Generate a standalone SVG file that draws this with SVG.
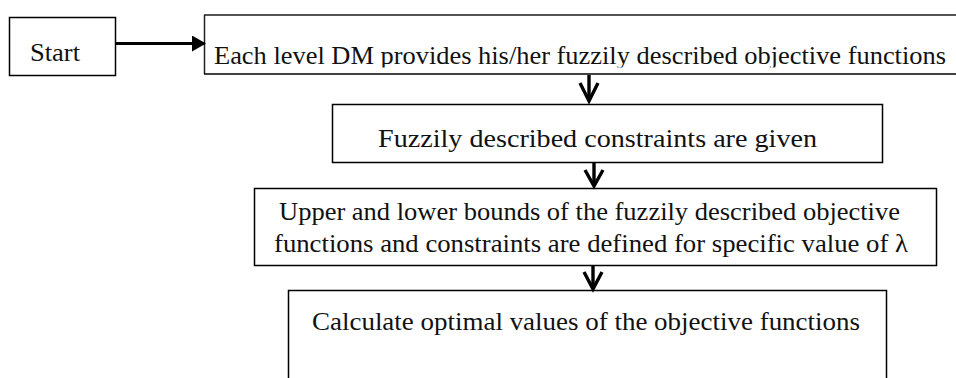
<svg xmlns="http://www.w3.org/2000/svg" width="956" height="378" viewBox="0 0 956 378">
<style>
.box{fill:#fff;stroke:#000;stroke-width:1.5}
.t{font-family:"Liberation Serif","Times New Roman",serif;font-size:25px;fill:#111}
.v{fill:none;stroke:#000;stroke-width:3.4;stroke-linecap:butt;stroke-linejoin:miter}
</style>
<defs>
<marker id="tri" markerWidth="14" markerHeight="16" refX="13" refY="8" orient="auto" markerUnits="userSpaceOnUse" viewBox="0 0 14 16">
<path d="M0,0 L14,8 L0,16 z" fill="#000"/>
</marker>
<clipPath id="c1"><rect x="204" y="15" width="760" height="52.5"/></clipPath>
</defs>
<rect width="956" height="378" fill="#fff"/>
<g id="start">
<rect class="box" x="9.5" y="17.5" width="106" height="58"/>
<text class="t" x="30" y="61" textLength="50" lengthAdjust="spacingAndGlyphs">Start</text>
</g>
<g id="n1">
<rect x="204.5" y="15" width="760" height="59" fill="#fff" stroke="none"/>
<line x1="204" y1="15" x2="956" y2="15" stroke="#555" stroke-width="2"/>
<line x1="204.5" y1="15" x2="204.5" y2="74" stroke="#222" stroke-width="1.5"/>
<line x1="204" y1="74" x2="956" y2="74" stroke="#000" stroke-width="1.5"/>
<text class="t" x="214" y="64" textLength="732" lengthAdjust="spacingAndGlyphs" clip-path="url(#c1)">Each level DM provides his/her fuzzily described objective functions</text>
</g>
<g id="n2">
<rect class="box" x="332.5" y="104.5" width="550" height="58"/>
<text class="t" x="378" y="147" textLength="439" lengthAdjust="spacingAndGlyphs">Fuzzily described constraints are given</text>
</g>
<g id="n3">
<rect class="box" x="254.5" y="188.5" width="682" height="77"/>
<text class="t" x="279" y="220" textLength="621" lengthAdjust="spacingAndGlyphs">Upper and lower bounds of the fuzzily described objective</text>
<text class="t" x="274" y="252" textLength="634" lengthAdjust="spacingAndGlyphs">functions and constraints are defined for specific value of  λ</text>
</g>
<g id="n4">
<rect class="box" x="288.5" y="290.5" width="598" height="100"/>
<text class="t" x="312" y="330" textLength="548" lengthAdjust="spacingAndGlyphs">Calculate optimal values of the objective functions</text>
</g>
<g id="connectors">
<line x1="116" y1="43.5" x2="205" y2="43.5" stroke="#000" stroke-width="3" marker-end="url(#tri)"/>
<g class="v">
<line x1="589" y1="75" x2="589" y2="101"/><polyline points="580,83 589,101 598,83"/>
<line x1="594" y1="163" x2="594" y2="186"/><polyline points="585,170 594,186 603,170"/>
<line x1="593" y1="266" x2="593" y2="289"/><polyline points="584,272 593,289 602,272"/>
</g>
</g>
</svg>
